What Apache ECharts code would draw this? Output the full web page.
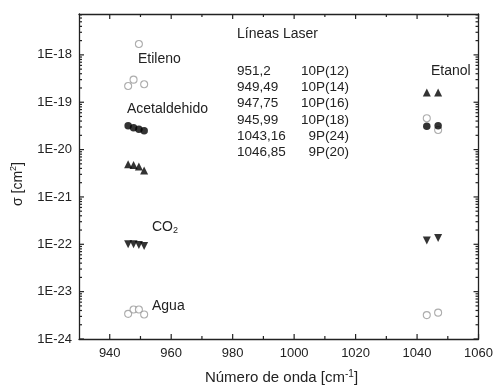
<!DOCTYPE html>
<html>
<head>
<meta charset="utf-8">
<script src="https://cdn.jsdelivr.net/npm/echarts@6/dist/echarts.min.js"></script>
<style>
  html, body { margin: 0; padding: 0; background: #fff; }
  #chart { width: 496px; height: 387px; }
</style>
</head>
<body>
<div id="chart"></div>
<script>
// laser lines (cm-1)
const linesCO2 = [945.99, 947.75, 949.49, 951.2];
const linesEtanol = [1043.16, 1046.85];

// cross sections (cm2)
const etileno = [2.2e-19, 3.0e-19, 1.7e-18, 2.4e-19];
const acetCirc = [3.2e-20, 2.9e-20, 2.7e-20, 2.5e-20];
const acetTri = [4.9e-21, 4.7e-21, 4.4e-21, 3.6e-21];
const co2 = [1.0e-22, 1.0e-22, 9.7e-23, 9.2e-23];
const agua = [3.4e-24, 4.2e-24, 4.2e-24, 3.3e-24];

const etanolTri = [1.6e-19, 1.6e-19];
const etanolCirc = [3.1e-20, 3.2e-20];
const etanolOpen = [4.6e-20, 2.6e-20];
const etanolDown = [1.2e-22, 1.35e-22];
const etanolOpenLow = [3.2e-24, 3.6e-24];

const xMajor = [940, 960, 980, 1000, 1020, 1040, 1060];
const xMinor = [950, 970, 990, 1010, 1030, 1050];

const tableWave = ['951,2', '949,49', '947,75', '945,99', '1043,16', '1046,85'];
const tableLine = ['10P(12)', '10P(14)', '10P(16)', '10P(18)', '9P(24)', '9P(20)'];

const Y_MIN = 1e-24, Y_MAX = 7.3e-18;
const FONT = 'Liberation Sans, Arial, sans-serif';

// the y axis is a value axis on log10(sigma); labels are written back as 1E-n
const lg = (v) => Math.log10(v);
const E_MIN = lg(Y_MIN), E_MAX = lg(Y_MAX);

// log minor ticks 2..9 per decade
const yMinor = [];
for (let n = -24; n <= -18; n++) {
  for (let m = 2; m <= 9; m++) {
    const v = m * Math.pow(10, n);
    if (v < Y_MAX) yMinor.push(v);
  }
}

const pair = (xs, ys) => xs.map((x, i) => [x, lg(ys[i])]);

const chart = echarts.init(document.getElementById('chart'));

const axisLine = { show: true, lineStyle: { color: '#222', width: 1.3 } };

function xAxisDef(pos, labels) {
  return {
    type: 'value', position: pos, min: 930, max: 1060, interval: 10,
    axisLine: axisLine,
    splitLine: { show: false },
    axisTick: { show: false },
    axisLabel: labels ? { show: true, margin: 8, color: '#222', fontSize: 13, fontFamily: FONT,
      formatter: (v) => (v % 20 === 0 ? String(v) : '') } : { show: false }
  };
}

function yAxisDef(pos, labels) {
  return {
    type: 'value', position: pos, min: E_MIN, max: E_MAX, interval: 1,
    axisLine: axisLine,
    splitLine: { show: false },
    axisTick: { show: false },
    axisLabel: labels ? {
      show: true, margin: 7, color: '#222', fontSize: 13, fontFamily: FONT,
      formatter: (v) => (Math.abs(v - Math.round(v)) < 1e-6 ? '1E' + Math.round(v) : '')
    } : { show: false }
  };
}

const openCircle = { color: '#fff', borderColor: '#999', borderWidth: 1.1 };
const black = { color: '#000' };

function sc(name, data, symbol, size, style, rotate) {
  return {
    name: name, type: 'scatter', data: data, symbol: symbol, symbolSize: size,
    symbolRotate: rotate || 0, itemStyle: style, z: 3
  };
}

const texts = [
  { x: 138, y: 60, t: 'Etileno' },
  { x: 127, y: 110, t: 'Acetaldehido' },
  { x: 152, y: 307, t: 'Agua' },
  { x: 431, y: 72, t: 'Etanol' },
  { x: 237, y: 35, t: 'Líneas Laser' }
];

const graphics = texts.map(o => ({
  type: 'text', left: o.x, top: o.y - 8,
  style: { text: o.t, fontSize: 14, fontFamily: FONT, fill: '#222' }
}));
graphics.push({
  type: 'text', left: 152, top: 220,
  style: { text: '{a|CO}{s|2}', fontFamily: FONT, fill: '#222',
    rich: { a: { fontSize: 14, fontFamily: FONT, fill: '#222' },
            s: { fontSize: 9, fontFamily: FONT, fill: '#222', padding: [8, 0, 0, 0] } } }
});
tableWave.forEach((w, i) => {
  const y = 72 + i * 16.3 - 8;
  graphics.push({ type: 'text', left: 237, top: y,
    style: { text: w, fontSize: 13.5, fontFamily: FONT, fill: '#222' } });
  graphics.push({ type: 'text', right: 496 - 349, top: y,
    style: { text: tableLine[i], fontSize: 13.5, fontFamily: FONT, fill: '#222', textAlign: 'right' } });
});
graphics.push({
  type: 'text', x: 281.5, y: 378,
  style: { text: '{a|Número de onda [cm}{s|-1}{a|]}', fontFamily: FONT,
    textAlign: 'center', textVerticalAlign: 'middle',
    rich: { a: { fontSize: 15, fontFamily: FONT, fill: '#222' },
            s: { fontSize: 10, fontFamily: FONT, fill: '#222', padding: [0, 0, 8, 0] } } }
});
graphics.push({
  type: 'text', x: 18, y: 184, rotation: Math.PI / 2,
  style: { text: '{a|σ [cm}{s|2}{a|]}', fontFamily: FONT, textAlign: 'center', textVerticalAlign: 'middle',
    rich: { a: { fontSize: 14, fontFamily: FONT, fill: '#222' },
            s: { fontSize: 9, fontFamily: FONT, fill: '#222', padding: [0, 0, 8, 0] } } }
});

// tick marks: [kind, value, length]  kind 0 = x tick, 1 = y tick
const yMajor = [-24, -23, -22, -21, -20, -19, -18];
const tickData = []
  .concat(xMajor.map(v => [0, v, 5]))
  .concat(xMinor.map(v => [0, v, 3]))
  .concat(yMajor.map(v => [1, v, 5]))
  .concat(yMinor.map(v => [1, lg(v), 3]));

chart.setOption({
  animation: false,
  backgroundColor: '#fff',
  grid: { left: 79, top: 14, right: 12, bottom: 48 },
  xAxis: [xAxisDef('bottom', true), xAxisDef('top', false)],
  yAxis: [yAxisDef('left', true), yAxisDef('right', false)],
  graphic: graphics,
  series: [
    sc('Etileno', pair(linesCO2, etileno), 'circle', 7, openCircle),
    sc('Acetaldehido', pair(linesCO2, acetCirc), 'circle', 7.5, black),
    sc('Acetaldehido tri', pair(linesCO2, acetTri), 'triangle', 8, black),
    sc('CO2', pair(linesCO2, co2), 'triangle', 8, black, 180),
    sc('Agua', pair(linesCO2, agua), 'circle', 7, openCircle),
    sc('Etanol tri', pair(linesEtanol, etanolTri), 'triangle', 8, black),
    sc('Etanol open', pair(linesEtanol, etanolOpen), 'circle', 7, openCircle),
    sc('Etanol', pair(linesEtanol, etanolCirc), 'circle', 7.5, black),
    sc('Etanol down', pair(linesEtanol, etanolDown), 'triangle', 8, black, 180),
    sc('Etanol agua', pair(linesEtanol, etanolOpenLow), 'circle', 7, openCircle),
    {
      name: 'ticks', type: 'custom', silent: true, clip: false, z: 4,
      data: tickData,
      renderItem: (params, api) => {
        const kind = api.value(0), v = api.value(1), len = api.value(2);
        const st = { stroke: '#222', lineWidth: 1.2 };
        if (kind === 1) {
          const l = api.coord([930, v]);
          const r = api.coord([1060, v]);
          return { type: 'group', children: [
            { type: 'line', shape: { x1: l[0], y1: l[1], x2: l[0] + len, y2: l[1] }, style: st },
            { type: 'line', shape: { x1: r[0] - len, y1: r[1], x2: r[0], y2: r[1] }, style: st }
          ] };
        }
        const b = api.coord([v, E_MIN]);
        const t = api.coord([v, E_MAX]);
        return { type: 'group', children: [
          { type: 'line', shape: { x1: b[0], y1: b[1], x2: b[0], y2: b[1] - len }, style: st },
          { type: 'line', shape: { x1: t[0], y1: t[1], x2: t[0], y2: t[1] + len }, style: st }
        ] };
      }
    }
  ]
});
</script>
</body>
</html>
